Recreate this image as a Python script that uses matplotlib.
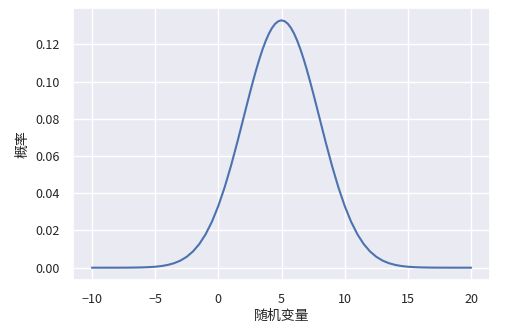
import numpy as np
import matplotlib
matplotlib.use("Agg")
import matplotlib.pyplot as plt
import seaborn as sns

# distances from the centre (x = 5) and the probability values
center = 5.0
dist = [15, 14.5, 14, 13.5, 13, 12.5, 12, 11.5, 11, 10.5, 10, 9.5, 9, 8.5,
        8, 7.5, 7, 6.5, 6, 5.5, 5, 4.5, 4, 3.5, 3, 2.75, 2.5, 2.25, 2,
        1.75, 1.5, 1.25, 1, 0.75, 0.5, 0.25]
half = [0.0, 0.0, 0.0, 0.0, 0.00001, 0.00002, 0.00004, 0.00009, 0.00016,
        0.00029, 0.00051, 0.00088, 0.00148, 0.00240, 0.00380, 0.00584,
        0.00874, 0.01272, 0.01800, 0.02477, 0.03316, 0.04317, 0.05467,
        0.06733, 0.08066, 0.08736, 0.09397, 0.10038, 0.10648, 0.11218,
        0.11736, 0.12192, 0.12579, 0.12889, 0.13115, 0.13252]
peak = 0.13298

x_values = [center - d for d in dist] + [center] + [center + d for d in dist[::-1]]
y_values = half + [peak] + half[::-1]

x_label = "随机变量"
y_label = "概率"
x_ticks = [-10, -5, 0, 5, 10, 15, 20]
y_ticks = [0.0, 0.02, 0.04, 0.06, 0.08, 0.10, 0.12]

sns.set_theme(style="darkgrid")
plt.rcParams['font.family'] = ['Noto Sans CJK SC', 'DejaVu Sans']
plt.rcParams['axes.unicode_minus'] = True

fig = plt.figure(figsize=(5.17, 3.33), dpi=100)
ax = fig.add_axes([0.141, 0.159, 0.807, 0.817])
ax.plot(x_values, y_values, color='#4c72b0', linewidth=1.5)
ax.set_xticks(x_ticks)
ax.set_yticks(y_ticks)
ax.set_yticklabels(["%.2f" % v for v in y_ticks])
ax.tick_params(labelsize=9, colors='#262626')
ax.set_xlabel(x_label, fontsize=10, labelpad=2, color='#262626')
ax.set_ylabel(y_label, fontsize=10, labelpad=4, color='#262626')
fig.savefig("out.png", dpi=100)
